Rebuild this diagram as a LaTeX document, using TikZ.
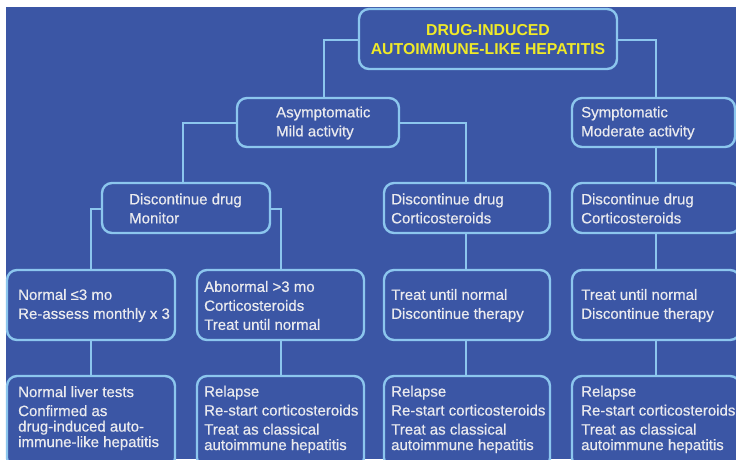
\documentclass[tikz,border=0pt]{standalone}
\usepackage{fontspec}
\setmainfont{Liberation Sans}
\newfontfamily\medfont{Liberation Sans}[FakeBold=0.5]
\usetikzlibrary{calc}
\definecolor{bg}{RGB}{59,86,165}
\definecolor{ln}{RGB}{140,198,238}
\definecolor{tx}{RGB}{234,234,238}
\definecolor{ttl}{RGB}{240,234,40}
\begin{document}
\begin{tikzpicture}[x=1pt,y=-1pt,
  box/.style={draw=ln,line width=2.4pt,rounded corners=10pt,fill=bg,inner sep=0pt},
  txt/.style={text=tx,font=\medfont\fontsize{15}{19}\selectfont,align=left,inner sep=0pt,anchor=west},
  btxt/.style={text=tx,font=\medfont\fontsize{15}{15.5}\selectfont,align=left,inner sep=0pt,anchor=north west},
  conn/.style={draw=ln,line width=2.4pt}]
\useasboundingbox (0,0) rectangle (736,459);
\clip (0,0) rectangle (736,459);
\fill[white] (0,0) rectangle (736,459);
\fill[bg] (6,7) rectangle (736,459);

% connectors
\coordinate (c1) at (324,98);
\coordinate (c2) at (656,98);
\coordinate (c3) at (183,183);
\coordinate (c4) at (466,183);
\coordinate (c5) at (91,270);
\coordinate (c6) at (281,270);
\draw[conn] (488,40) -| (c1);
\draw[conn] (488,40) -| (c2);
\draw[conn] (318,123) -| (c3);
\draw[conn] (318,123) -| (c4);
\draw[conn] (186,209) -| (c5);
\draw[conn] (186,209) -| (c6);
\draw[conn] (466,208) -- (466,421);
\draw[conn] (656,122) -- (656,421);
\draw[conn] (91,305) -- (91,421);
\draw[conn] (281,305) -- (281,421);

% boxes
\node[box,minimum width=258pt,minimum height=60pt] (top) at (488,39) {};
\node[box,minimum width=162pt,minimum height=49pt] (asym) at (318,122.5) {};
\node[box,minimum width=163pt,minimum height=49pt] (symp) at (653.5,122.5) {};
\node[box,minimum width=168pt,minimum height=50pt] (mon) at (186,208) {};
\node[box,minimum width=166pt,minimum height=50pt] (dc1) at (467,208) {};
\node[box,minimum width=168pt,minimum height=50pt] (dc2) at (656,208) {};
\node[box,minimum width=168pt,minimum height=70pt] (nrm) at (91,305) {};
\node[box,minimum width=167pt,minimum height=70pt] (abn) at (280.5,305) {};
\node[box,minimum width=166pt,minimum height=70pt] (tr1) at (467,305) {};
\node[box,minimum width=168pt,minimum height=70pt] (tr2) at (656,305) {};
\node[box,minimum width=168pt,minimum height=92pt] (nlt) at (91,422) {};
\node[box,minimum width=167pt,minimum height=92pt] (rel1) at (280.5,422) {};
\node[box,minimum width=166pt,minimum height=92pt] (rel2) at (467,422) {};
\node[box,minimum width=168pt,minimum height=92pt] (rel3) at (656,422) {};

% texts
\node[text=ttl,font=\fontsize{15.8}{18.5}\selectfont\bfseries,align=center,inner sep=0pt] (ttop) at (488,39.5) {DRUG-INDUCED\\AUTOIMMUNE-LIKE HEPATITIS};
\node[txt] (tasym) at (276,123) {Asymptomatic\\Mild activity};
\node[txt] (tsymp) at (581,123) {Symptomatic\\Moderate activity};
\node[txt] (tmon) at (129,208.5) {Discontinue drug\\Monitor};
\node[txt] (tdc1) at (391,208.5) {Discontinue drug\\Corticosteroids};
\node[txt] (tdc2) at (581,208.5) {Discontinue drug\\Corticosteroids};
\node[txt] (tnrm) at (18,305.5) {Normal ≤3 mo\\Re-assess monthly x 3};
\node[txt] (tabn) at (204,305.5) {Abnormal >3 mo\\Corticosteroids\\Treat until normal};
\node[txt] (ttr1) at (391,305.5) {Treat until normal\\Discontinue therapy};
\node[txt] (ttr2) at (581,305.5) {Treat until normal\\Discontinue therapy};
\node[btxt] (tnlt) at (18,386) {Normal liver tests\\[3.5pt]Confirmed as\\drug-induced auto-\\immune-like hepatitis};
\node[btxt] (trel1) at (204,385.5) {Relapse\\[3.5pt]Re-start corticosteroids\\[3.5pt]Treat as classical\\autoimmune hepatitis};
\node[btxt] (trel2) at (391,385.5) {Relapse\\[3.5pt]Re-start corticosteroids\\[3.5pt]Treat as classical\\autoimmune hepatitis};
\node[btxt] (trel3) at (581,385.5) {Relapse\\[3.5pt]Re-start corticosteroids\\[3.5pt]Treat as classical\\autoimmune hepatitis};
\end{tikzpicture}
\end{document}
